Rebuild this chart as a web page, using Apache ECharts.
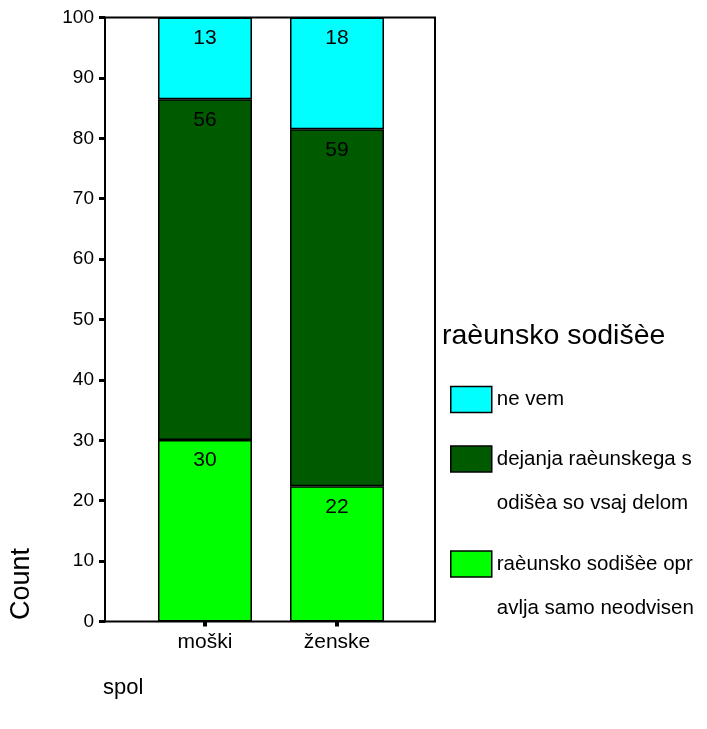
<!DOCTYPE html>
<html>
<head>
<meta charset="utf-8">
<script src="https://cdn.jsdelivr.net/npm/echarts@6/dist/echarts.min.js"></script>
<style>
html,body{margin:0;padding:0;background:#fff;}
#chart{width:707px;height:729px;}
</style>
</head>
<body>
<div id="chart"></div>
<script>
// ---- data ----
const categories = ['moški', 'ženske'];
const seriesNames = [
  'raèunsko sodišèe opr\navlja samo neodvisen',
  'dejanja raèunskega s\nodišèa so vsaj delom',
  'ne vem'
];
const valuesNeodvisen = [30.05, 22.4];
const valuesDelom = [56.4, 59.1];
const valuesNeVem = [13.55, 18.5];
const yTicks = { min: 0, max: 100, interval: 10 };
const colors = ['#00ff00', '#005a00', '#00ffff'];

const FONT = 'Liberation Sans, Arial, sans-serif';
const chart = echarts.init(document.getElementById('chart'), null, { renderer: 'canvas' });

const gridTop = 17.5, gridBottom = 729 - 621.5;

function barSeries(name, data, color) {
  return {
    name: name,
    type: 'bar',
    stack: 'total',
    xAxisIndex: 1,
    yAxisIndex: 1,
    barWidth: 94,
    data: data,
    itemStyle: { color: color, borderColor: '#000', borderWidth: 1.5 },
    label: {
      show: true,
      position: 'insideTop',
      distance: 10,
      color: '#000',
      fontFamily: FONT,
      fontSize: 21,
      formatter: p => String(Math.floor(p.value))
    }
  };
}

function legendFor(name, top, twoLines) {
  return {
    show: true,
    orient: 'vertical',
    left: 450,
    top: top,
    padding: 0,
    itemWidth: 41,
    itemHeight: 26,
    icon: 'rect',
    selectedMode: false,
    data: [name],
    formatter: twoLines ? (n => '\n' + n) : (n => n),
    itemStyle: { borderColor: '#000', borderWidth: 1.5 },
    textStyle: {
      fontFamily: FONT,
      fontSize: 20.5,
      color: '#000',
      lineHeight: 44
    }
  };
}

const option = {
  animation: false,
  backgroundColor: '#fff',
  title: [
    {
      text: 'raèunsko sodišèe',
      left: 442,
      top: 322,
      padding: 0,
      textStyle: { fontFamily: FONT, fontSize: 28.5, fontWeight: 'normal', color: '#000' }
    },
    {
      text: 'spol',
      left: 103,
      top: 677,
      padding: 0,
      textStyle: { fontFamily: FONT, fontSize: 22, fontWeight: 'normal', color: '#000' }
    }
  ],
  graphic: [
    {
      type: 'text',
      x: 22,
      y: 584,
      rotation: Math.PI / 2,
      style: {
        text: 'Count',
        fontFamily: FONT,
        fontSize: 27,
        fill: '#000',
        align: 'center',
        verticalAlign: 'middle'
      }
    }
  ],
  legend: [
    legendFor(seriesNames[2], 377.5, false),
    legendFor(seriesNames[1], 393, true),
    legendFor(seriesNames[0], 498, true)
  ],
  grid: [
    { left: 105, right: 707 - 435, top: gridTop, bottom: gridBottom, show: true, borderColor: '#000', borderWidth: 2, backgroundColor: 'transparent' },
    { left: 139, right: 707 - 403, top: gridTop, bottom: gridBottom }
  ],
  xAxis: [
    { gridIndex: 0, type: 'value', min: 0, max: 1, show: false },
    {
      gridIndex: 1,
      type: 'category',
      data: categories,
      axisLine: { show: false },
      axisTick: { show: true, alignWithLabel: true, length: 5, lineStyle: { color: '#000', width: 4 } },
      axisLabel: { color: '#000', fontFamily: FONT, fontSize: 21, margin: 10 },
      splitLine: { show: false }
    }
  ],
  yAxis: [
    {
      gridIndex: 0,
      type: 'value',
      min: yTicks.min,
      max: yTicks.max,
      interval: yTicks.interval,
      axisLine: { show: true, lineStyle: { color: '#000', width: 2 } },
      axisTick: { show: true, length: 6, lineStyle: { color: '#000', width: 3 } },
      axisLabel: { color: '#000', fontFamily: FONT, fontSize: 19, margin: 11 },
      splitLine: { show: false }
    },
    {
      gridIndex: 1,
      type: 'value',
      min: yTicks.min,
      max: yTicks.max,
      interval: yTicks.interval,
      show: false,
      splitLine: { show: false }
    }
  ],
  series: [
    barSeries(seriesNames[0], valuesNeodvisen, colors[0]),
    barSeries(seriesNames[1], valuesDelom, colors[1]),
    barSeries(seriesNames[2], valuesNeVem, colors[2])
  ]
};

chart.setOption(option);
</script>
</body>
</html>
